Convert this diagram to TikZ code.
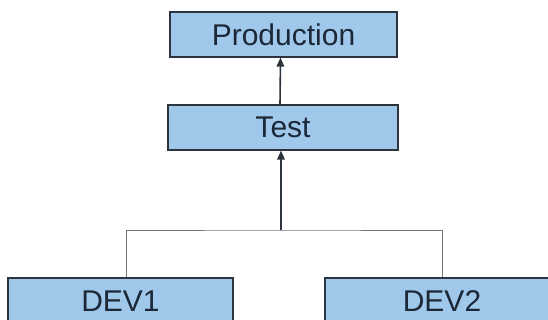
\documentclass[tikz,border=0pt]{standalone}
\usepackage{fontspec}
\setmainfont{Liberation Sans}
\usetikzlibrary{arrows.meta}
\definecolor{boxfill}{RGB}{160,200,234}
\definecolor{boxline}{RGB}{45,52,62}
\definecolor{boxtext}{RGB}{28,40,56}
\definecolor{treeline}{RGB}{120,120,120}
\tikzset{
  stage/.style={rectangle, fill=boxfill, draw=boxline, line width=1.1pt,
    inner sep=0pt, text=boxtext, font=\fontsize{30}{36}\selectfont},
  promote/.style={draw=boxline, line width=1.6pt,
    -{Triangle[length=9pt,width=7.5pt]}},
  branch/.style={draw=treeline, line width=0.9pt}
}
\begin{document}
\begin{tikzpicture}[x=1pt, y=-1pt]
  \useasboundingbox (0,0) rectangle (548,320);
  \clip (0,0) rectangle (548,320);
  \fill[white] (0,0) rectangle (548,320);

  \node[stage, minimum width=227pt, minimum height=45pt] (prod) at (283.5,34.5) {Production};
  \node[stage, minimum width=230pt, minimum height=45pt] (test) at (283,127.5) {Test};
  \node[stage, minimum width=225pt, minimum height=46pt] (dev1) at (120.5,301) {DEV1};
  \node[stage, minimum width=234pt, minimum height=46pt] (dev2) at (442,301) {DEV2};

  \coordinate (join) at (281,230);

  \draw[branch] ([xshift=5.5pt]dev1.north) |- (join) -| (dev2.north);
  \draw[promote] (join) -- ([xshift=-2pt]test.south);
  \draw[promote] ([xshift=-3pt]test.north) -- ([xshift=-3pt]prod.south);
\end{tikzpicture}
\end{document}
